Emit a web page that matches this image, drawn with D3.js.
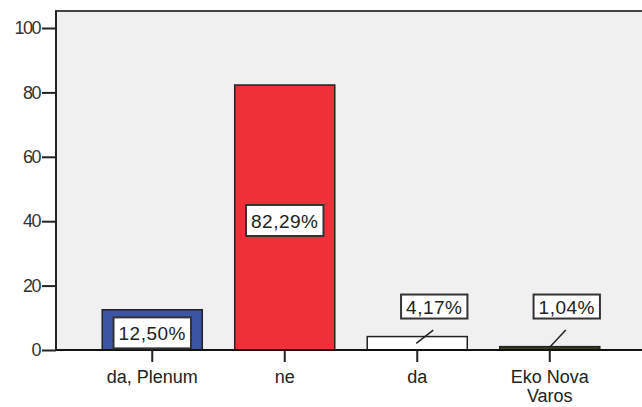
<!DOCTYPE html>
<html>
<head>
<meta charset="utf-8">
<script src="https://cdn.jsdelivr.net/npm/d3@7"></script>
<style>
  body { margin: 0; background: #fff; }
  text { font-family: "Liberation Sans", Arial, sans-serif; }
</style>
</head>
<body>
<div id="chart"></div>
<script>
// data
const categories = ["da, Plenum", "ne", "da", "Eko Nova Varos"];
const percents = [12.50, 82.29, 4.17, 1.04];
const labels = ["12,50%", "82,29%", "4,17%", "1,04%"];
const barColors = ["#3b54a4", "#ef3038", "#ffffff", "#3b3b1f"];
const yTicks = [0, 20, 40, 60, 80, 100];

const WIDTH = 642,
    HEIGHT = 407;

const svg = d3.select("#chart")
    .append("svg")
    .attr("width", WIDTH)
    .attr("height", HEIGHT);

const yScale = d3.scaleLinear()
    .domain([0, 100])
    .range([350, 28]);

const xScale = d3.scaleBand()
    .domain(categories)
    .range([86, 616])
    .paddingInner(0.245)
    .paddingOuter(0.1225);

const plotLeft = 56,
    plotTop = 11,
    plotRight = WIDTH + 5;

// plot background + frame
svg.append("rect")
    .attr("x", plotLeft)
    .attr("y", plotTop)
    .attr("width", plotRight - plotLeft)
    .attr("height", yScale(0) - plotTop)
    .attr("fill", "#f0f0f0")
    .attr("stroke", "#444")
    .attr("stroke-width", 2);

// y axis
const axisY = svg.append("g")
    .attr("transform", `translate(${plotLeft}, 0)`)
    .call(d3.axisLeft(yScale).tickValues(yTicks).tickSize(14).tickPadding(2));

axisY.select(".domain").remove();
axisY.selectAll(".tick line").attr("stroke", "#222").attr("stroke-width", 2);
axisY.selectAll(".tick text")
    .attr("font-size", 18)
    .attr("fill", "#333")
    .attr("font-family", "Liberation Sans, Arial, sans-serif")
    .attr("letter-spacing", -1.5);

svg.append("line")
    .attr("x1", plotLeft).attr("x2", plotLeft)
    .attr("y1", plotTop).attr("y2", yScale(0))
    .attr("stroke", "#222")
    .attr("stroke-width", 2);

// bars
svg.append("g")
    .selectAll("rect")
    .data(percents)
    .join("rect")
    .attr("x", (d, i) => xScale(categories[i]))
    .attr("y", d => yScale(d))
    .attr("width", xScale.bandwidth())
    .attr("height", d => yScale(0) - yScale(d))
    .attr("fill", (d, i) => barColors[i])
    .attr("stroke", "#222")
    .attr("stroke-width", 1.5);

// x axis
const axisX = svg.append("g")
    .attr("transform", `translate(0, ${yScale(0)})`)
    .call(d3.axisBottom(xScale).tickSize(12).tickFormat(""));

axisX.select(".domain")
    .attr("d", `M${plotLeft},0H${WIDTH}`)
    .attr("stroke", "#111")
    .attr("stroke-width", 2);
axisX.selectAll(".tick line").attr("stroke", "#222").attr("stroke-width", 2);

// category labels (wrapped)
svg.append("g")
    .selectAll("text")
    .data(categories)
    .join("text")
    .attr("x", d => xScale(d) + xScale.bandwidth() / 2)
    .attr("y", 383)
    .attr("text-anchor", "middle")
    .attr("font-size", 18)
    .attr("fill", "#222")
    .attr("letter-spacing", 0)
    .each(function (d) {
        const words = d.length > 12 ? ["Eko Nova", "Varos"] : [d];
        d3.select(this).selectAll("tspan")
            .data(words)
            .join("tspan")
            .attr("x", xScale(d) + xScale.bandwidth() / 2)
            .attr("dy", (w, j) => j === 0 ? 0 : 19)
            .text(w => w);
    });

// value labels
const labelG = svg.append("g");
percents.forEach((v, i) => {
    const cx = xScale(categories[i]) + xScale.bandwidth() / 2;
    const small = v < 8;
    const boxCx = small ? cx + 17 : cx;
    const boxCy = small ? yScale(13.5) : yScale(v / 2) + 3;

    if (small) {
        labelG.append("line")
            .attr("x1", cx - 1)
            .attr("y1", yScale(v / 2))
            .attr("x2", cx + 16)
            .attr("y2", yScale(6.2))
            .attr("stroke", "#222")
            .attr("stroke-width", 1.5);
    }

    const t = labelG.append("text")
        .attr("x", boxCx)
        .attr("y", boxCy + 7)
        .attr("text-anchor", "middle")
        .attr("font-size", 19)
        .attr("fill", "#222")
        .attr("letter-spacing", 0.5)
        .text(labels[i]);

    const bb = t.node().getBBox();
    labelG.insert("rect", "text")
        .attr("x", bb.x - 5)
        .attr("y", boxCy - (small ? 12 : 15.5))
        .attr("width", bb.width + 10)
        .attr("height", small ? 24 : 31)
        .attr("fill", "#fff")
        .attr("stroke", "#333")
        .attr("stroke-width", 2);
});
</script>
</body>
</html>
